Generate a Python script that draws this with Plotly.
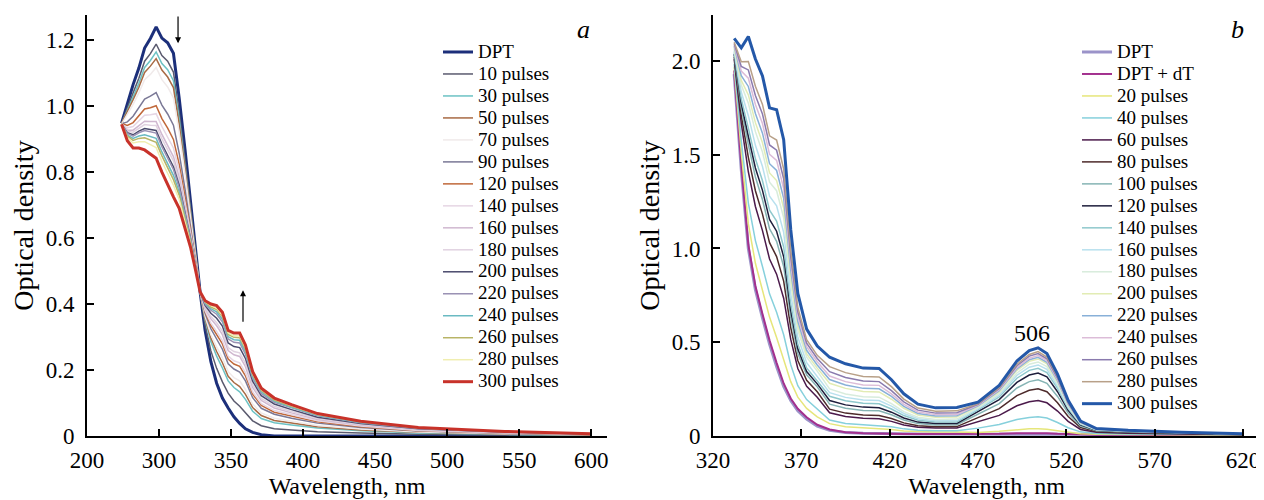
import plotly.graph_objects as go

# ---------------- Panel a data ----------------
WL_A = [274, 278, 282, 286, 290, 294, 298, 302, 306, 310, 314, 318, 322, 325, 328.5,
        332, 336, 340, 344, 348, 352, 356, 360, 365, 371, 380, 392, 410, 440, 480, 540, 600]

A_DPT = [0.948, 1.010, 1.065, 1.115, 1.176, 1.205, 1.240, 1.206, 1.192, 1.160, 1.024, 0.870, 0.700, 0.580, 0.437,
         0.320, 0.225, 0.160, 0.115, 0.085, 0.058, 0.038, 0.022, 0.011, 0.004, 0.0, 0.0, 0.0, 0.0, 0.0, 0.0, 0.0]
A_10 = [0.947, 0.995, 1.040, 1.084, 1.136, 1.159, 1.188, 1.153, 1.136, 1.103, 0.981, 0.839, 0.683, 0.571, 0.437,
        0.337, 0.258, 0.205, 0.164, 0.130, 0.106, 0.090, 0.070, 0.046, 0.031, 0.022, 0.018, 0.013, 0.009, 0.005, 0.003, 0.001]
A_30 = [0.946, 0.988, 1.029, 1.069, 1.117, 1.138, 1.164, 1.129, 1.110, 1.077, 0.961, 0.824, 0.675, 0.567, 0.437,
        0.352, 0.286, 0.242, 0.206, 0.167, 0.147, 0.134, 0.111, 0.075, 0.053, 0.040, 0.033, 0.024, 0.016, 0.009, 0.005, 0.002]
A_50 = [0.948, 0.982, 1.019, 1.057, 1.102, 1.121, 1.144, 1.109, 1.088, 1.056, 0.944, 0.812, 0.669, 0.563, 0.437,
        0.357, 0.297, 0.256, 0.222, 0.181, 0.162, 0.150, 0.126, 0.086, 0.062, 0.047, 0.039, 0.028, 0.018, 0.011, 0.006, 0.003]
A_70 = [0.945, 0.974, 1.005, 1.040, 1.080, 1.096, 1.117, 1.080, 1.058, 1.025, 0.920, 0.796, 0.660, 0.558, 0.437,
        0.362, 0.307, 0.270, 0.237, 0.195, 0.177, 0.167, 0.141, 0.097, 0.070, 0.054, 0.045, 0.032, 0.021, 0.012, 0.007, 0.003]
A_90 = [0.946, 0.952, 0.969, 0.994, 1.021, 1.030, 1.041, 1.003, 0.976, 0.942, 0.857, 0.750, 0.635, 0.545, 0.437,
        0.371, 0.325, 0.294, 0.263, 0.219, 0.203, 0.194, 0.167, 0.116, 0.084, 0.066, 0.054, 0.039, 0.026, 0.015, 0.008, 0.004]
A_120 = [0.947, 0.941, 0.950, 0.970, 0.991, 0.995, 1.001, 0.962, 0.933, 0.899, 0.824, 0.726, 0.622, 0.538, 0.437,
         0.377, 0.335, 0.308, 0.279, 0.233, 0.218, 0.211, 0.182, 0.127, 0.093, 0.072, 0.060, 0.043, 0.028, 0.016, 0.009, 0.004]
A_140 = [0.945, 0.934, 0.938, 0.955, 0.972, 0.974, 0.977, 0.938, 0.907, 0.873, 0.804, 0.712, 0.614, 0.534, 0.437,
         0.380, 0.342, 0.317, 0.289, 0.242, 0.228, 0.222, 0.192, 0.134, 0.098, 0.077, 0.064, 0.046, 0.030, 0.017, 0.009, 0.005]
A_160 = [0.946, 0.927, 0.927, 0.941, 0.954, 0.953, 0.953, 0.914, 0.881, 0.847, 0.784, 0.697, 0.606, 0.530, 0.437,
         0.387, 0.355, 0.334, 0.307, 0.259, 0.246, 0.241, 0.210, 0.147, 0.108, 0.085, 0.070, 0.050, 0.033, 0.019, 0.010, 0.005]
A_180 = [0.947, 0.924, 0.921, 0.933, 0.944, 0.942, 0.941, 0.901, 0.868, 0.834, 0.773, 0.690, 0.602, 0.527, 0.437,
         0.390, 0.362, 0.343, 0.318, 0.268, 0.256, 0.252, 0.220, 0.155, 0.114, 0.090, 0.074, 0.053, 0.035, 0.020, 0.011, 0.005]
A_200 = [0.945, 0.919, 0.913, 0.924, 0.932, 0.928, 0.926, 0.885, 0.851, 0.816, 0.760, 0.680, 0.597, 0.525, 0.437,
         0.396, 0.372, 0.357, 0.333, 0.282, 0.271, 0.268, 0.235, 0.166, 0.122, 0.097, 0.080, 0.057, 0.038, 0.022, 0.012, 0.006]
A_220 = [0.946, 0.917, 0.909, 0.919, 0.926, 0.921, 0.918, 0.877, 0.842, 0.808, 0.753, 0.676, 0.595, 0.523, 0.437,
         0.400, 0.381, 0.369, 0.346, 0.294, 0.284, 0.282, 0.248, 0.175, 0.129, 0.102, 0.085, 0.061, 0.040, 0.023, 0.012, 0.006]
A_240 = [0.947, 0.912, 0.902, 0.909, 0.913, 0.907, 0.902, 0.861, 0.825, 0.790, 0.740, 0.666, 0.589, 0.520, 0.437,
         0.403, 0.386, 0.376, 0.354, 0.301, 0.292, 0.290, 0.256, 0.180, 0.134, 0.106, 0.087, 0.063, 0.041, 0.024, 0.013, 0.006]
A_260 = [0.945, 0.909, 0.896, 0.902, 0.904, 0.897, 0.890, 0.849, 0.812, 0.777, 0.730, 0.659, 0.586, 0.518, 0.437,
         0.406, 0.391, 0.383, 0.362, 0.308, 0.299, 0.298, 0.263, 0.186, 0.138, 0.109, 0.090, 0.065, 0.043, 0.025, 0.013, 0.007]
A_280 = [0.946, 0.904, 0.888, 0.892, 0.892, 0.883, 0.874, 0.832, 0.795, 0.760, 0.717, 0.649, 0.580, 0.516, 0.437,
         0.407, 0.395, 0.388, 0.367, 0.313, 0.304, 0.304, 0.268, 0.189, 0.141, 0.112, 0.092, 0.066, 0.044, 0.025, 0.014, 0.007]
A_300 = [0.945, 0.895, 0.873, 0.873, 0.867, 0.855, 0.842, 0.800, 0.760, 0.725, 0.690, 0.630, 0.570, 0.510, 0.437,
         0.410, 0.400, 0.395, 0.375, 0.320, 0.312, 0.312, 0.276, 0.195, 0.145, 0.115, 0.095, 0.068, 0.045, 0.026, 0.014, 0.007]

NAMES_A = ["DPT", "10 pulses", "30 pulses", "50 pulses", "70 pulses", "90 pulses", "120 pulses",
           "140 pulses", "160 pulses", "180 pulses", "200 pulses", "220 pulses", "240 pulses",
           "260 pulses", "280 pulses", "300 pulses"]
VALUES_A = [A_DPT, A_10, A_30, A_50, A_70, A_90, A_120, A_140, A_160, A_180, A_200, A_220,
            A_240, A_260, A_280, A_300]

A_TICKVALS = [250, 300, 350, 400, 450, 500, 550, 600]
A_TICKTEXT = ["200", "300", "350", "400", "450", "500", "550", "600"]
A_YTICKS = [0, 0.2, 0.4, 0.6, 0.8, 1.0, 1.2]
A_YTEXT = ["0", "0.2", "0.4", "0.6", "0.8", "1.0", "1.2"]

# ---------------- Panel b data ----------------
WL_B = [332, 336, 340, 344, 348, 352, 356, 360, 364, 368, 373, 379,
        386, 395, 405, 414, 421, 428, 436, 446, 458,
        470, 482, 492, 499, 504, 509, 515, 521, 528, 537, 555, 585, 620]

B_DPT = [1.93, 1.42, 1.00, 0.78, 0.63, 0.49, 0.37, 0.265, 0.19, 0.135, 0.09, 0.052,
         0.03, 0.018, 0.014, 0.012, 0.011, 0.01, 0.01, 0.01, 0.01,
         0.01, 0.011, 0.012, 0.013, 0.013, 0.012, 0.011, 0.01, 0.009, 0.008, 0.008, 0.007, 0.006]
B_DT = [1.95, 1.45, 1.02, 0.80, 0.65, 0.51, 0.39, 0.28, 0.20, 0.145, 0.10, 0.06,
        0.035, 0.02, 0.015, 0.012, 0.012, 0.01, 0.01, 0.01, 0.01,
        0.01, 0.012, 0.015, 0.016, 0.016, 0.015, 0.012, 0.01, 0.008, 0.007, 0.006, 0.005, 0.004]
B_20 = [1.967, 1.512, 1.131, 0.921, 0.777, 0.634, 0.525, 0.410, 0.290, 0.207, 0.147, 0.102,
        0.066, 0.049, 0.043, 0.040, 0.035, 0.027, 0.023, 0.021, 0.021,
        0.019, 0.025, 0.034, 0.038, 0.039, 0.036, 0.028, 0.019, 0.012, 0.009, 0.007, 0.006, 0.004]
B_40 = [1.984, 1.574, 1.242, 1.042, 0.904, 0.758, 0.660, 0.540, 0.380, 0.268, 0.194, 0.144,
        0.085, 0.067, 0.060, 0.057, 0.049, 0.038, 0.031, 0.028, 0.028,
        0.042, 0.061, 0.088, 0.099, 0.102, 0.096, 0.072, 0.044, 0.022, 0.013, 0.011, 0.008, 0.006]
B_60 = [2.010, 1.667, 1.409, 1.224, 1.095, 0.944, 0.863, 0.735, 0.515, 0.360, 0.265, 0.207,
        0.124, 0.104, 0.095, 0.092, 0.078, 0.059, 0.047, 0.042, 0.043,
        0.075, 0.110, 0.161, 0.183, 0.189, 0.177, 0.133, 0.078, 0.035, 0.020, 0.015, 0.011, 0.007]
B_80 = [2.021, 1.710, 1.486, 1.308, 1.183, 1.031, 0.957, 0.826, 0.578, 0.403, 0.297, 0.236,
        0.143, 0.122, 0.112, 0.109, 0.093, 0.070, 0.055, 0.049, 0.050,
        0.098, 0.146, 0.215, 0.244, 0.252, 0.236, 0.177, 0.104, 0.045, 0.024, 0.018, 0.013, 0.008]
B_100 = [2.032, 1.748, 1.553, 1.381, 1.260, 1.105, 1.038, 0.904, 0.632, 0.440, 0.326, 0.262,
         0.170, 0.148, 0.136, 0.134, 0.113, 0.085, 0.066, 0.059, 0.060,
         0.116, 0.173, 0.256, 0.290, 0.300, 0.281, 0.211, 0.123, 0.053, 0.028, 0.021, 0.014, 0.009]
B_120 = [2.038, 1.772, 1.597, 1.429, 1.310, 1.155, 1.092, 0.956, 0.668, 0.465, 0.344, 0.278,
         0.189, 0.166, 0.154, 0.151, 0.127, 0.096, 0.074, 0.066, 0.067,
         0.130, 0.194, 0.286, 0.325, 0.336, 0.315, 0.236, 0.137, 0.059, 0.030, 0.023, 0.016, 0.010]
B_140 = [2.045, 1.797, 1.642, 1.478, 1.361, 1.204, 1.146, 1.008, 0.704, 0.489, 0.363, 0.295,
         0.212, 0.188, 0.175, 0.172, 0.144, 0.109, 0.084, 0.074, 0.075,
         0.139, 0.208, 0.308, 0.350, 0.361, 0.338, 0.254, 0.147, 0.063, 0.032, 0.024, 0.016, 0.010]
B_160 = [2.055, 1.834, 1.708, 1.550, 1.437, 1.279, 1.227, 1.086, 0.758, 0.526, 0.391, 0.320,
         0.231, 0.206, 0.192, 0.189, 0.159, 0.120, 0.092, 0.081, 0.082,
         0.146, 0.218, 0.323, 0.367, 0.379, 0.355, 0.266, 0.154, 0.066, 0.033, 0.025, 0.017, 0.010]
B_180 = [2.066, 1.872, 1.775, 1.623, 1.514, 1.353, 1.308, 1.164, 0.812, 0.563, 0.420, 0.346,
         0.251, 0.224, 0.209, 0.207, 0.173, 0.130, 0.100, 0.088, 0.090,
         0.152, 0.227, 0.336, 0.383, 0.395, 0.370, 0.278, 0.160, 0.068, 0.035, 0.026, 0.018, 0.011]
B_200 = [2.072, 1.896, 1.819, 1.671, 1.564, 1.403, 1.362, 1.216, 0.848, 0.588, 0.438, 0.362,
         0.281, 0.254, 0.237, 0.235, 0.196, 0.148, 0.112, 0.100, 0.101,
         0.158, 0.236, 0.350, 0.398, 0.411, 0.385, 0.289, 0.167, 0.071, 0.036, 0.027, 0.018, 0.011]
B_220 = [2.079, 1.921, 1.864, 1.720, 1.615, 1.452, 1.416, 1.268, 0.884, 0.612, 0.457, 0.379,
         0.301, 0.272, 0.254, 0.252, 0.211, 0.158, 0.120, 0.107, 0.108,
         0.161, 0.242, 0.358, 0.407, 0.420, 0.393, 0.295, 0.170, 0.072, 0.036, 0.027, 0.018, 0.011]
B_240 = [2.086, 1.946, 1.908, 1.768, 1.666, 1.502, 1.470, 1.320, 0.920, 0.637, 0.476, 0.396,
         0.320, 0.290, 0.272, 0.270, 0.225, 0.169, 0.128, 0.114, 0.115,
         0.165, 0.247, 0.365, 0.415, 0.429, 0.402, 0.301, 0.174, 0.074, 0.037, 0.028, 0.019, 0.011]
B_260 = [2.093, 1.971, 1.952, 1.816, 1.717, 1.552, 1.524, 1.372, 0.956, 0.662, 0.495, 0.413,
         0.343, 0.312, 0.293, 0.290, 0.242, 0.182, 0.138, 0.122, 0.124,
         0.169, 0.253, 0.375, 0.426, 0.440, 0.412, 0.309, 0.178, 0.075, 0.038, 0.028, 0.019, 0.011]
B_280 = [2.100, 1.996, 1.997, 1.865, 1.768, 1.601, 1.578, 1.424, 0.992, 0.686, 0.514, 0.430,
         0.370, 0.338, 0.317, 0.315, 0.263, 0.197, 0.149, 0.132, 0.134,
         0.172, 0.258, 0.383, 0.435, 0.450, 0.421, 0.316, 0.182, 0.077, 0.039, 0.029, 0.019, 0.012]
B_300 = [2.12, 2.07, 2.13, 2.01, 1.92, 1.75, 1.74, 1.58, 1.10, 0.76, 0.57, 0.48,
         0.42, 0.385, 0.362, 0.36, 0.30, 0.225, 0.17, 0.15, 0.152,
         0.18, 0.27, 0.40, 0.455, 0.47, 0.44, 0.33, 0.19, 0.08, 0.04, 0.03, 0.02, 0.012]

NAMES_B = ["DPT", "DPT + dT", "20 pulses", "40 pulses", "60 pulses", "80 pulses", "100 pulses",
           "120 pulses", "140 pulses", "160 pulses", "180 pulses", "200 pulses", "220 pulses",
           "240 pulses", "260 pulses", "280 pulses", "300 pulses"]
VALUES_B = [B_DPT, B_DT, B_20, B_40, B_60, B_80, B_100, B_120, B_140, B_160, B_180, B_200,
            B_220, B_240, B_260, B_280, B_300]

B_TICKVALS = [320, 370, 420, 470, 520, 570, 620]
B_TICKTEXT = ["320", "370", "420", "470", "520", "570", "620"]
B_YTICKS = [0, 0.5, 1.0, 1.5, 2.0]
B_YTEXT = ["0", "0.5", "1.0", "1.5", "2.0"]

PEAK_LABEL = "506"

# ---------------- styles ----------------
COLORS_A = ["#1c2f7a", "#5a5a6e", "#6cc2c4", "#a86a44", "#f0eaea", "#7a7896", "#c0683a",
            "#e6d6e4", "#d0b8d0", "#e0d2e0", "#4a4a6c", "#9a92b4", "#6abac2", "#b8b466",
            "#f0eeb0", "#c8322a"]
WIDTHS_A = [3] + [1.5] * 14 + [3]
COLORS_B = ["#9b93c9", "#a3308e", "#e6e67a", "#86d0dc", "#4b1a4b", "#4d2b2b", "#86b4b4",
            "#1e1e3c", "#8ec8cc", "#b8e0ee", "#d8ecdc", "#e2ecb4", "#88b0d8", "#dcbcd8",
            "#8a7aae", "#b8a088", "#2458a8"]
WIDTHS_B = [3, 2] + [1.5] * 14 + [3]

FONT = "Liberation Serif, Times New Roman, Times, serif"
OFF = 8                 # page body margin of the rendered html
W, H = 1264 - OFF, 500 - OFF
LEG_TXT = 19


def px_x(p):
    return (p - OFF) / W


def px_y(p):
    return 1 - (p - OFF) / H


fig = go.Figure()
for name, vals, col, w in zip(NAMES_A, VALUES_A, COLORS_A, WIDTHS_A):
    fig.add_trace(go.Scatter(
        x=WL_A, y=vals, mode="lines", line=dict(color=col, width=w),
        name=f"<span style='font-size:{LEG_TXT}px'>{name}</span>",
        xaxis="x", yaxis="y", legend="legend"))
for name, vals, col, w in zip(NAMES_B, VALUES_B, COLORS_B, WIDTHS_B):
    fig.add_trace(go.Scatter(
        x=WL_B, y=vals, mode="lines", line=dict(color=col, width=w),
        name=f"<span style='font-size:{LEG_TXT}px'>{name}</span>",
        xaxis="x2", yaxis="y2", legend="legend2"))

axis_common = dict(showline=True, linecolor="black", linewidth=2, ticks="inside",
                   ticklen=7, tickwidth=1.5, tickcolor="black", showgrid=False,
                   zeroline=False, automargin=False,
                   tickfont=dict(family=FONT, size=23, color="black"))
xtitle_font = dict(family=FONT, size=24, color="black")
ytitle_font = dict(family=FONT, size=28, color="black")

ydom = [px_y(436), px_y(15)]

fig.update_layout(
    width=W, height=H, template="none",
    paper_bgcolor="white", plot_bgcolor="white",
    margin=dict(l=0, r=0, t=0, b=0),
    showlegend=True,
    xaxis=dict(domain=[px_x(87), px_x(607)], range=[250, 611], anchor="y",
               tickmode="array", tickvals=A_TICKVALS, ticktext=A_TICKTEXT,
               title=dict(text="Wavelength, nm", font=xtitle_font, standoff=4),
               ticklabelstandoff=2, **axis_common),
    yaxis=dict(domain=ydom, range=[0, 1.276], anchor="x",
               tickmode="array", tickvals=A_YTICKS, ticktext=A_YTEXT,
               title=dict(text="Optical density", font=ytitle_font, standoff=4),
               ticklabelstandoff=6, **axis_common),
    xaxis2=dict(domain=[px_x(713), px_x(1260)], range=[320, 629.6], anchor="y2",
                tickmode="array", tickvals=B_TICKVALS, ticktext=B_TICKTEXT,
                title=dict(text="Wavelength, nm", font=xtitle_font, standoff=4),
                ticklabelstandoff=2, **axis_common),
    yaxis2=dict(domain=ydom, range=[0, 2.245], anchor="x2",
                tickmode="array", tickvals=B_YTICKS, ticktext=B_YTEXT,
                title=dict(text="Optical density", font=ytitle_font, standoff=4),
                ticklabelstandoff=6, **axis_common),
    legend=dict(x=px_x(438), y=px_y(36), xanchor="left", yanchor="top",
                font=dict(family=FONT, size=14.6, color="black"),
                bgcolor="rgba(0,0,0,0)", tracegroupgap=0, itemwidth=30),
    legend2=dict(x=px_x(1077), y=px_y(36), xanchor="left", yanchor="top",
                 font=dict(family=FONT, size=14.6, color="black"),
                 bgcolor="rgba(0,0,0,0)", tracegroupgap=0, itemwidth=30),
)

annotations = [
    dict(text="<i>a</i>", x=px_x(583), y=px_y(30), xref="paper", yref="paper",
         xanchor="center", yanchor="middle", showarrow=False,
         font=dict(family=FONT, size=26, color="black")),
    dict(text="<i>b</i>", x=px_x(1237), y=px_y(30), xref="paper", yref="paper",
         xanchor="center", yanchor="middle", showarrow=False,
         font=dict(family=FONT, size=26, color="black")),
    dict(text=PEAK_LABEL, x=500.5, y=0.55, xref="x2", yref="y2", showarrow=False,
         xanchor="center", yanchor="middle",
         font=dict(family=FONT, size=24, color="black")),
    dict(text="", x=313.2, y=1.19, ax=313.2, ay=1.276, xref="x", yref="y",
         axref="x", ayref="y", showarrow=True, arrowhead=2, arrowsize=1,
         arrowwidth=1.2, arrowcolor="black"),
    dict(text="", x=358.3, y=0.442, ax=358.3, ay=0.342, xref="x", yref="y",
         axref="x", ayref="y", showarrow=True, arrowhead=2, arrowsize=1,
         arrowwidth=1.2, arrowcolor="black"),
]
fig.update_layout(annotations=annotations)

fig.write_html("out.html")
